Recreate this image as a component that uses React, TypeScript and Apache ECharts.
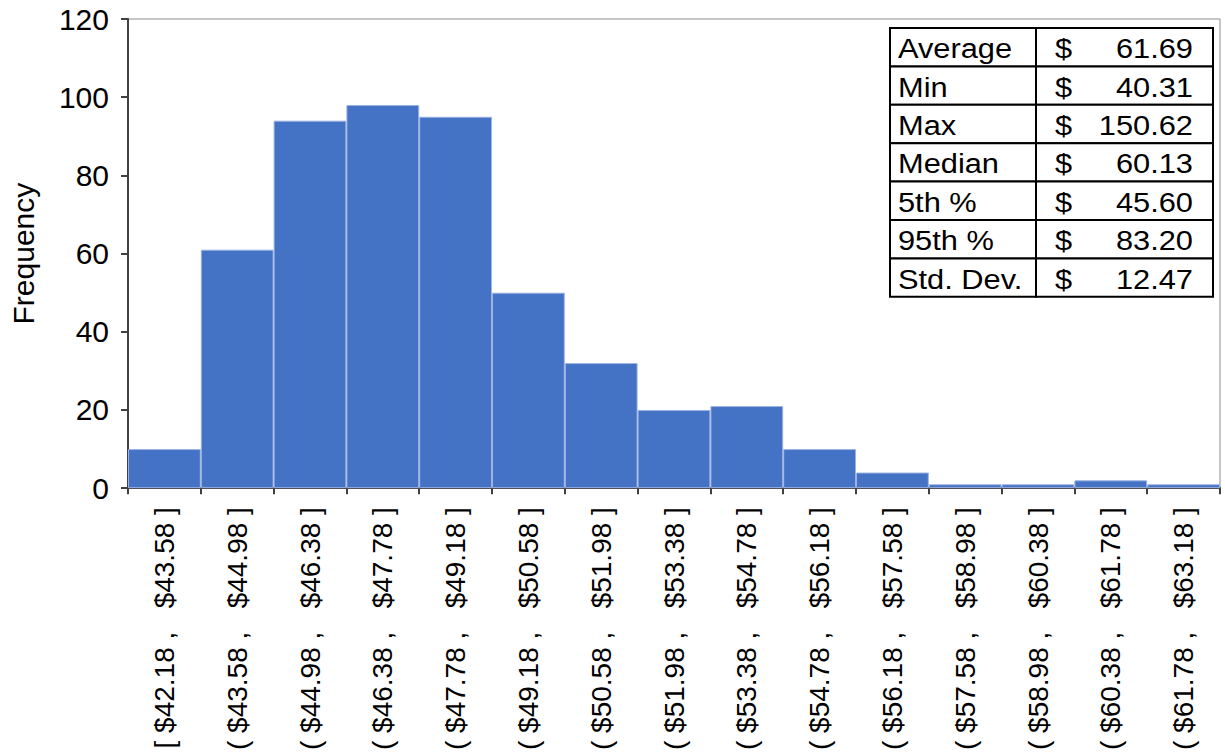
import React, { useEffect, useRef } from "react";
import * as echarts from "echarts";

const binEdges = [42.18, 43.58, 44.98, 46.38, 47.78, 49.18, 50.58, 51.98, 53.38, 54.78, 56.18, 57.58, 58.98, 60.38, 61.78, 63.18];
const frequencies = [10, 61, 94, 98, 95, 50, 32, 20, 21, 10, 4, 1, 1, 2, 1];
const yTicks = { min: 0, max: 120, interval: 20 };
const statLabels = ["Average", "Min", "Max", "Median", "5th %", "95th %", "Std. Dev."];
const statValues = ["61.69", "40.31", "150.62", "60.13", "45.60", "83.20", "12.47"];

const NB = "\u00A0";
const categories = frequencies.map((_, i) => {
  const open = i === 0 ? "[" : "(";
  return `${open}${NB}$${binEdges[i].toFixed(2)}${NB},${NB}${NB}${NB}$${binEdges[i + 1].toFixed(2)}${NB}]`;
});

const FONT = "'Liberation Sans', Arial, Helvetica, sans-serif";

export default function App() {
  const ref = useRef<HTMLDivElement>(null);
  useEffect(() => {
    if (!ref.current) return;
    const chart = echarts.init(ref.current, undefined, { renderer: "svg" });

    const tX = 890, tY = 28, c1 = 146, c2 = 177, rh = 38.4;
    const SX = 1.1;
    const tableChildren: any[] = [];
    statLabels.forEach((lab, i) => {
      const y = tY + i * rh;
      tableChildren.push({
        type: "rect",
        shape: { x: tX, y, width: c1, height: rh },
        style: { fill: "#fff", stroke: "#000", lineWidth: 2 },
      });
      tableChildren.push({
        type: "rect",
        shape: { x: tX + c1, y, width: c2, height: rh },
        style: { fill: "#fff", stroke: "#000", lineWidth: 2 },
      });
      tableChildren.push({
        type: "text",
        x: tX + 8,
        y: y + rh / 2 + 1,
        scaleX: SX,
        style: { text: lab, fontSize: 28, fontFamily: FONT, fill: "#000", verticalAlign: "middle", align: "left" },
      });
      tableChildren.push({
        type: "text",
        x: tX + c1 + 19,
        y: y + rh / 2 + 1,
        scaleX: SX,
        style: { text: "$", fontSize: 28, fontFamily: FONT, fill: "#000", verticalAlign: "middle", align: "left" },
      });
      tableChildren.push({
        type: "text",
        x: tX + c1 + c2 - 20,
        y: y + rh / 2 + 1,
        scaleX: SX,
        style: { text: statValues[i], fontSize: 28, fontFamily: FONT, fill: "#000", verticalAlign: "middle", align: "right" },
      });
    });

    chart.setOption({
      animation: false,
      backgroundColor: "#fff",
      textStyle: { fontFamily: FONT },
      grid: {
        left: 127,
        right: 5,
        top: 19,
        bottom: 264,
        show: true,
        borderColor: "#8c8c8c",
        borderWidth: 1,
        backgroundColor: "transparent",
      },
      xAxis: {
        type: "category",
        data: categories,
        boundaryGap: true,
        axisLine: { show: true, lineStyle: { color: "#404040", width: 2 } },
        axisTick: { show: true, alignWithLabel: false, length: 6, lineStyle: { color: "#404040", width: 2 } },
        axisLabel: {
          rotate: 90,
          interval: 0,
          margin: 19,
          fontSize: 28,
          fontFamily: FONT,
          color: "#000",
        },
      },
      yAxis: {
        type: "value",
        min: yTicks.min,
        max: yTicks.max,
        interval: yTicks.interval,
        name: "Frequency",
        nameLocation: "middle",
        nameGap: 90,
        nameTextStyle: { fontSize: 30, fontFamily: FONT, color: "#000" },
        axisLine: { show: true, lineStyle: { color: "#404040", width: 2 } },
        axisTick: { show: true, length: 7, lineStyle: { color: "#404040", width: 2 } },
        axisLabel: { fontSize: 30, fontFamily: FONT, color: "#000", margin: 19 },
        splitLine: { show: false },
      },
      series: [
        {
          type: "bar",
          data: frequencies,
          barCategoryGap: "0%",
          itemStyle: { color: "#4472C4", borderColor: "#9db3e2", borderWidth: 1 },
        },
      ],
      graphic: [{ type: "group", children: tableChildren, z: 100 }],
    });
    return () => chart.dispose();
  }, []);
  return <div ref={ref} style={{ position: "fixed", left: 0, top: 0, width: 1225, height: 753 }} />;
}
